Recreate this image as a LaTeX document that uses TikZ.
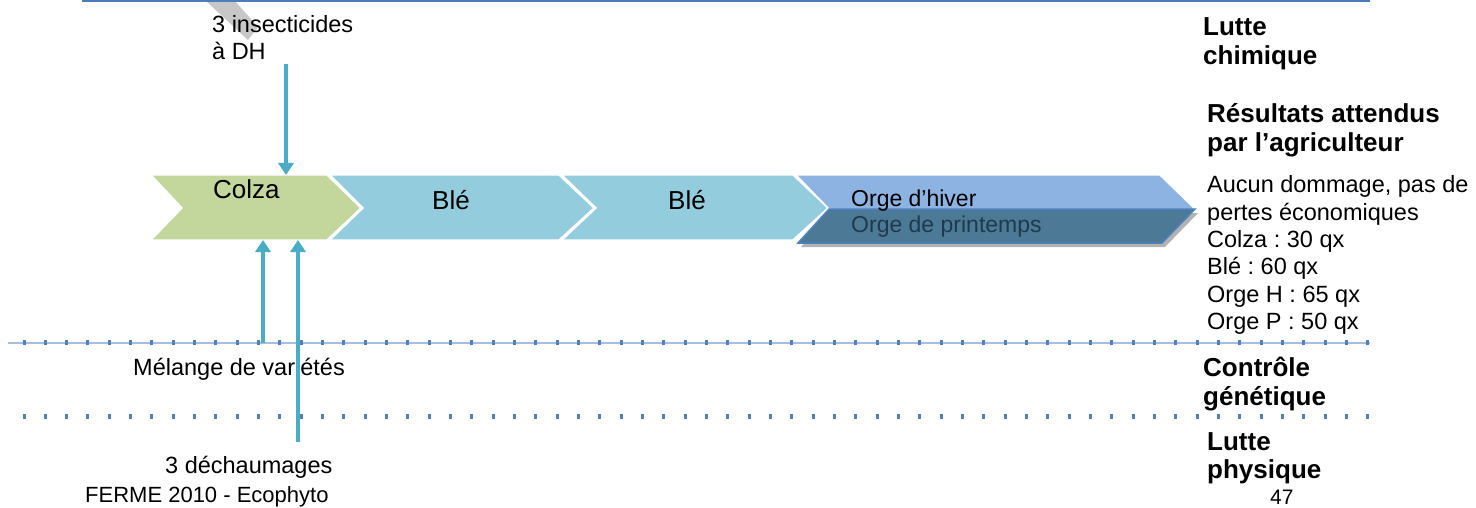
\documentclass[tikz,border=0pt]{standalone}
\usepackage{fontspec}
\setmainfont{Liberation Sans}
\usetikzlibrary{arrows.meta}
\frenchspacing
\definecolor{colzac}{HTML}{C3D69B}
\definecolor{blec}{HTML}{93CDDD}
\definecolor{orgeH}{HTML}{8DB3E2}
\definecolor{orgeP}{HTML}{4C7A96}
\definecolor{orgeline}{HTML}{4F81BD}
\definecolor{arrowc}{HTML}{4BACC6}
\definecolor{toplinec}{HTML}{4A7EBB}
\definecolor{tickc}{HTML}{4F81BD}
\definecolor{thinlinec}{HTML}{A7BFDE}
\definecolor{ptext}{HTML}{1F3A4C}
\begin{document}
\begin{tikzpicture}[x=1pt,y=-1pt,
  txt/.style={inner sep=0,anchor=base west,font=\fontsize{23.5}{27}\selectfont},
  boldtxt/.style={inner sep=0,anchor=base west,font=\fontsize{26}{29}\selectfont\bfseries},
  chevtxt/.style={inner sep=0,anchor=base,font=\fontsize{26}{29}\selectfont},
  chev/.style={draw=white,line width=1.5pt},
  flow/.style={draw=arrowc,line width=3.5pt,-{Triangle[width=15pt,length=12pt]}},
  ticks/.style={draw=tickc,line width=5pt,dash pattern=on 3pt off 18.33pt},
]
\useasboundingbox[fill=white] (0,0) rectangle (1476,508);

% grey mark at top
\fill[black!22] (205,0) -- (234,0) -- (258,27) -- (248,40) -- cycle;
% top line
\draw[toplinec,line width=2pt] (82,1) -- (1370,1);

% dotted separators
\draw[thinlinec,line width=1.2pt] (8,343) -- (1370,343);
\draw[ticks] (22.5,342) -- (1370,342);
\draw[ticks] (22.5,416.3) -- (1370,416.3);

% chevrons
\filldraw[chev,fill=colzac] (151,175) -- (327,175) -- (361,208) -- (327,240) -- (151,240) -- (182,208) -- cycle;
\filldraw[chev,fill=blec] (330,175) -- (559,175) -- (594,208) -- (559,240) -- (330,240) -- (363,208) -- cycle;
\filldraw[chev,fill=blec] (562,175) -- (793,175) -- (828,208) -- (793,240) -- (562,240) -- (596,208) -- cycle;
\filldraw[chev,fill=orgeH] (796,175) -- (1160,175) -- (1195,209) -- (1160,243) -- (796,243) -- (829,209) -- cycle;
\fill[black!30] (832,213) -- (1198,213) -- (1165,247) -- (801,247) -- cycle;
\filldraw[draw=orgeline,line width=1.5pt,fill=orgeP] (829,209) -- (1195,209) -- (1162,243) -- (798,243) -- cycle;

% chevron labels
\node[inner sep=0,anchor=base west,font=\fontsize{26}{29}\selectfont] (colza) at (213,199) {Colza};
\node[chevtxt] (ble1) at (451,210) {Blé};
\node[chevtxt] (ble2) at (687,210) {Blé};
\node[inner sep=0,anchor=base west,font=\fontsize{23}{27}\selectfont] (orgeh) at (851,207) {Orge d’hiver};
\node[inner sep=0,anchor=base west,font=\fontsize{23}{27}\selectfont,text=ptext] (orgep) at (851,233) {Orge de printemps};

% left labels
\node[txt] (ins1) at (212,33) {3 insecticides};
\node[txt] (ins2) at (212,60) {à DH};
\node[txt] (melange) at (133,375) {Mélange de variétés};
\node[txt] (dech) at (165,473) {3 déchaumages};
\node[inner sep=0,anchor=base west,font=\fontsize{22}{26}\selectfont] (ferme) at (85,502.5) {FERME 2010 - Ecophyto};
\node[inner sep=0,anchor=base west,font=\fontsize{21}{25}\selectfont] (page) at (1270,504) {47};

% right column
\node[boldtxt] (lc1) at (1203,36) {Lutte};
\node[boldtxt] (lc2) at (1203,65) {chimique};
\node[boldtxt] (res1) at (1207,122.7) {Résultats attendus};
\node[boldtxt] (res2) at (1207,151.7) {par l’agriculteur};
\node[txt] (r1) at (1207,193) {Aucun dommage, pas de};
\node[txt] (r2) at (1207,220.3) {pertes économiques};
\node[txt] (r3) at (1207,247.6) {Colza : 30 qx};
\node[txt] (r4) at (1207,274.9) {Blé : 60 qx};
\node[txt] (r5) at (1207,302.2) {Orge H : 65 qx};
\node[txt] (r6) at (1207,329.5) {Orge P : 50 qx};
\node[boldtxt] (cg1) at (1203,376.7) {Contrôle};
\node[boldtxt] (cg2) at (1203,405) {génétique};
\node[boldtxt] (lp1) at (1207,450) {Lutte};
\node[boldtxt] (lp2) at (1207,478) {physique};

% arrow end points
\coordinate (insStart) at (286,64);
\coordinate (colzaTop) at (286,175);
\coordinate (melStart) at (263,343);
\coordinate (colzaB1) at (263,240);
\coordinate (dechStart) at (298,442);
\coordinate (colzaB2) at (298,240);

\draw[flow] (insStart) -- (colzaTop);
\draw[flow] (melStart) -- (colzaB1);
\draw[flow] (dechStart) -- (colzaB2);
\end{tikzpicture}
\end{document}
